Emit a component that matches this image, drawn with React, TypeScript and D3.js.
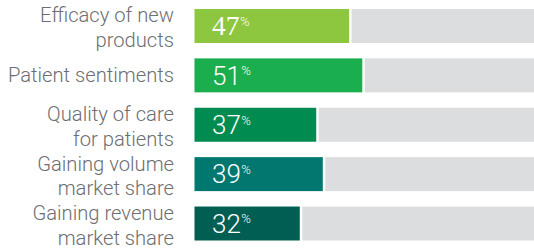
import React from "react";
import * as d3 from "d3";

const categories = [
  ["Efficacy of new", "products"],
  ["Patient sentiments"],
  ["Quality of care", "for patients"],
  ["Gaining volume", "market share"],
  ["Gaining revenue", "market share"],
];
const values = [47, 51, 37, 39, 32];
const colors = ["#8dc63f", "#1bae4e", "#008c51", "#00786f", "#005e53"];

const W = 534;
const H = 249;
const FONT = "Roboto, 'Liberation Sans', Arial, sans-serif";

export default function App() {
  const keys = categories.map((c) => c.join(" "));
  const x = d3.scaleLinear().domain([0, 100]).range([194.5, 523.5]);
  const y = d3.scaleBand<string>().domain(keys).range([9, 240.5]).paddingInner(0.312).paddingOuter(0);
  const bw = y.bandwidth();
  return (
    <svg width={W} height={H} style={{ position: "absolute", left: 0, top: 0, display: "block" }}>
      {keys.map((k, i) => {
        const y0 = y(k)!;
        const cy = y0 + bw / 2;
        const xe = x(values[i]);
        const lines = categories[i];
        return (
          <g key={k}>
            <rect x={xe + 2.5} y={y0} width={W - xe - 2.5} height={bw} fill="#dcddde" />
            <rect x={x(0)} y={y0} width={xe - x(0)} height={bw} fill={colors[i]} />
            <text
              x={x(0) + 17.5}
              y={cy + 9.3}
              fill="#ffffff"
              fontFamily={i === 0 ? "'Liberation Serif', serif" : FONT}
              fontWeight={300}
              fontSize={i === 0 ? 27.5 : 26}
            >
              {values[i]}
              <tspan fontFamily={FONT} fontSize={13} dy={-9.5} dx={0.5}>%</tspan>
            </text>
            {lines.length === 1 ? (
              <text
                x={174}
                y={cy + 6.5}
                textAnchor="end"
                fill="#6d6e71"
                fontFamily={FONT}
                fontWeight={300}
                fontSize={20.2}
              >
                {lines[0]}
              </text>
            ) : (
              lines.map((l, j) => (
                <text
                  key={j}
                  x={174}
                  y={cy - 3.5 + j * 24.5}
                  textAnchor="end"
                  fill="#6d6e71"
                  fontFamily={FONT}
                  fontWeight={300}
                  fontSize={20.2}
                >
                  {l}
                </text>
              ))
            )}
          </g>
        );
      })}
    </svg>
  );
}
